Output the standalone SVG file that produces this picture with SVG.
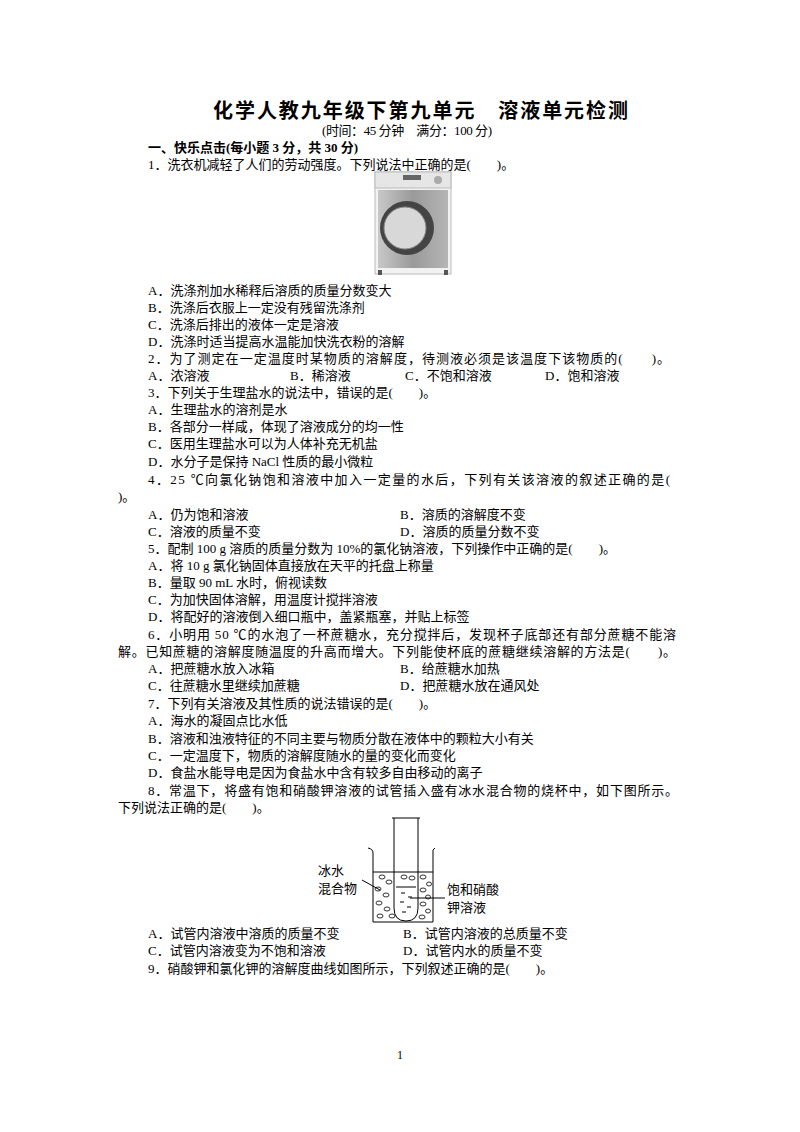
<svg xmlns="http://www.w3.org/2000/svg" width="800" height="1132" viewBox="0 0 800 1132">
<style>
text{font-family:"Liberation Serif","Noto Sans CJK SC",serif;font-size:13px;fill:#000}
.b{font-weight:bold}
.ln{stroke:#000;fill:none;stroke-width:1}
</style>
<defs>
<linearGradient id="g" x1="0" x2="1"><stop offset="0" stop-color="#c8c8c8"/><stop offset="0.5" stop-color="#9a9a9a"/><stop offset="1" stop-color="#b5b5b5"/></linearGradient>
</defs>
<rect width="800" height="1132" fill="#fff"/>
<text class="b" x="213" y="118" textLength="415" lengthAdjust="spacing" style="font-size:20px">化学人教九年级下第九单元　溶液单元检测</text>
<text x="322" y="135" textLength="170" lengthAdjust="spacing" style="font-size:13px">(时间：45 分钟　满分：100 分)</text>
<text class="b" x="148" y="152">一、快乐点击(每小题 3 分，共 30 分)</text>
<text x="148" y="169">1．洗衣机减轻了人们的劳动强度。下列说法中正确的是(　　)。</text>
<g id="washer">
<rect x="375" y="172" width="76" height="102" fill="#f2f2f2" stroke="#bbb"/>
<rect x="375" y="172" width="76" height="16" fill="#e6e6e6" stroke="#bbb"/>
<rect x="403" y="175" width="18" height="5" fill="#666"/>
<circle cx="438" cy="180" r="4" fill="#aaa"/>
<rect x="378" y="190" width="70" height="78" fill="url(#g)"/>
<circle cx="407" cy="228" r="27" fill="#444"/>
<circle cx="405" cy="228" r="21" fill="#d8d8d8" stroke="#888"/>
<rect x="378" y="270" width="4" height="5" fill="#555"/>
<rect x="444" y="270" width="4" height="5" fill="#555"/>
</g>
<text x="148" y="295">A．洗涤剂加水稀释后溶质的质量分数变大</text>
<text x="148" y="312">B．洗涤后衣服上一定没有残留洗涤剂</text>
<text x="148" y="329">C．洗涤后排出的液体一定是溶液</text>
<text x="148" y="346">D．洗涤时适当提高水温能加快洗衣粉的溶解</text>
<text x="148" y="363" textLength="522" lengthAdjust="spacing">2．为了测定在一定温度时某物质的溶解度，待测液必须是该温度下该物质的(　　)。</text>
<text x="148" y="380">A．浓溶液</text><text x="290" y="380">B．稀溶液</text><text x="405" y="380">C．不饱和溶液</text><text x="545" y="380">D．饱和溶液</text>
<text x="148" y="397">3．下列关于生理盐水的说法中，错误的是(　　)。</text>
<text x="148" y="414">A．生理盐水的溶剂是水</text>
<text x="148" y="431">B．各部分一样咸，体现了溶液成分的均一性</text>
<text x="148" y="448">C．医用生理盐水可以为人体补充无机盐</text>
<text x="148" y="466">D．水分子是保持 NaCl 性质的最小微粒</text>
<text x="148" y="484" textLength="522" lengthAdjust="spacing">4．25 ℃向氯化钠饱和溶液中加入一定量的水后，下列有关该溶液的叙述正确的是(</text>
<text x="118" y="501">)。</text>
<text x="148" y="519">A．仍为饱和溶液</text><text x="400" y="519">B．溶质的溶解度不变</text>
<text x="148" y="536">C．溶液的质量不变</text><text x="400" y="536">D．溶质的质量分数不变</text>
<text x="148" y="553">5．配制 100 g 溶质的质量分数为 10%的氯化钠溶液，下列操作中正确的是(　　)。</text>
<text x="148" y="570">A．将 10 g 氯化钠固体直接放在天平的托盘上称量</text>
<text x="148" y="587">B．量取 90 mL 水时，俯视读数</text>
<text x="148" y="604">C．为加快固体溶解，用温度计搅拌溶液</text>
<text x="148" y="621">D．将配好的溶液倒入细口瓶中，盖紧瓶塞，并贴上标签</text>
<text x="148" y="639" textLength="528" lengthAdjust="spacing">6．小明用 50 ℃的水泡了一杯蔗糖水，充分搅拌后，发现杯子底部还有部分蔗糖不能溶</text>
<text x="118" y="656" textLength="558" lengthAdjust="spacing">解。已知蔗糖的溶解度随温度的升高而增大。下列能使杯底的蔗糖继续溶解的方法是(　　)。</text>
<text x="148" y="673">A．把蔗糖水放入冰箱</text><text x="400" y="673">B．给蔗糖水加热</text>
<text x="148" y="690">C．往蔗糖水里继续加蔗糖</text><text x="400" y="690">D．把蔗糖水放在通风处</text>
<text x="148" y="708">7．下列有关溶液及其性质的说法错误的是(　　)。</text>
<text x="148" y="725">A．海水的凝固点比水低</text>
<text x="148" y="743">B．溶液和浊液特征的不同主要与物质分散在液体中的颗粒大小有关</text>
<text x="148" y="760">C．一定温度下，物质的溶解度随水的量的变化而变化</text>
<text x="148" y="777">D．食盐水能导电是因为食盐水中含有较多自由移动的离子</text>
<text x="148" y="795" textLength="530" lengthAdjust="spacing">8．常温下，将盛有饱和硝酸钾溶液的试管插入盛有冰水混合物的烧杯中，如下图所示。</text>
<text x="118" y="812">下列说法正确的是(　　)。</text>
<g id="beaker">
<path class="ln" d="M368,848 Q373,849 373,853 L373,922 L433,922 L433,850 L435,848"/>
<line class="ln" x1="373" y1="872" x2="433" y2="872"/>
<path class="ln" d="M394,818 L394,908 Q394,921 406,921 Q418,921 418,908 L418,818"/>
<line class="ln" x1="392" y1="818" x2="420" y2="818"/>
<line class="ln" x1="396" y1="887" x2="416" y2="887"/>
<g fill="none" stroke="#000" stroke-width="0.8">
<ellipse cx="382" cy="877" rx="3" ry="2"/><ellipse cx="389" cy="882" rx="3" ry="2"/><ellipse cx="378" cy="889" rx="3" ry="2"/><ellipse cx="386" cy="895" rx="3" ry="2"/><ellipse cx="379" cy="903" rx="3" ry="2"/><ellipse cx="387" cy="909" rx="3" ry="2"/><ellipse cx="380" cy="916" rx="3" ry="2"/><ellipse cx="392" cy="916" rx="3" ry="2"/><ellipse cx="404" cy="877" rx="3" ry="2"/><ellipse cx="412" cy="878" rx="3" ry="2"/>
<ellipse cx="423" cy="877" rx="3" ry="2"/><ellipse cx="429" cy="884" rx="2.5" ry="2"/><ellipse cx="423" cy="890" rx="3" ry="2"/><ellipse cx="428" cy="897" rx="2.5" ry="2"/><ellipse cx="423" cy="904" rx="3" ry="2"/><ellipse cx="428" cy="911" rx="2.5" ry="2"/><ellipse cx="422" cy="917" rx="3" ry="2"/>
</g>
<g class="ln"><line x1="401" y1="893" x2="405" y2="893"/><line x1="408" y1="897" x2="412" y2="897"/><line x1="400" y1="902" x2="404" y2="902"/><line x1="407" y1="907" x2="411" y2="907"/><line x1="402" y1="912" x2="406" y2="912"/></g>
<line class="ln" x1="362" y1="880" x2="380" y2="890"/>
<line class="ln" x1="410" y1="898" x2="445" y2="898"/>
<text x="318" y="875">冰水</text>
<text x="318" y="893">混合物</text>
<text x="447" y="894">饱和硝酸</text>
<text x="447" y="912">钾溶液</text>
</g>
<text x="148" y="938">A．试管内溶液中溶质的质量不变</text><text x="403" y="938">B．试管内溶液的总质量不变</text>
<text x="148" y="955">C．试管内溶液变为不饱和溶液</text><text x="403" y="955">D．试管内水的质量不变</text>
<text x="148" y="973">9．硝酸钾和氯化钾的溶解度曲线如图所示，下列叙述正确的是(　　)。</text>
<text x="400" y="1059" text-anchor="middle" style="font-size:12px">1</text>
</svg>
